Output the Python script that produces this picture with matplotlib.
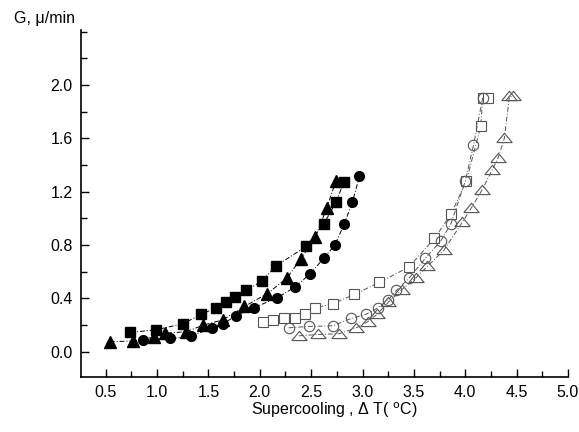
import matplotlib
matplotlib.use("Agg")
import matplotlib.pyplot as plt
from matplotlib.ticker import MultipleLocator

plt.rcParams['font.family'] = ['Liberation Sans', 'DejaVu Sans']

# filled symbols
sq_fill_x = [0.74, 0.99, 1.25, 1.43, 1.57, 1.67, 1.76, 1.87, 2.02, 2.16, 2.45, 2.62, 2.74, 2.82]
sq_fill_y = [0.145, 0.165, 0.21, 0.28, 0.33, 0.37, 0.41, 0.46, 0.53, 0.645, 0.79, 0.955, 1.12, 1.275]
ci_fill_x = [0.86, 1.13, 1.33, 1.53, 1.64, 1.77, 1.94, 2.17, 2.34, 2.49, 2.62, 2.73, 2.82, 2.90, 2.97]
ci_fill_y = [0.09, 0.10, 0.115, 0.18, 0.21, 0.27, 0.33, 0.405, 0.485, 0.585, 0.70, 0.80, 0.955, 1.12, 1.315]
tr_fill_x = [0.54, 0.77, 0.97, 1.08, 1.28, 1.45, 1.64, 1.85, 2.07, 2.26, 2.40, 2.54, 2.65, 2.74]
tr_fill_y = [0.077, 0.08, 0.11, 0.14, 0.15, 0.20, 0.24, 0.34, 0.435, 0.55, 0.695, 0.86, 1.075, 1.28]

# open symbols
sq_open_x = [2.03, 2.13, 2.24, 2.34, 2.44, 2.54, 2.71, 2.92, 3.16, 3.45, 3.70, 3.86, 4.01, 4.15, 4.17, 4.22]
sq_open_y = [0.22, 0.24, 0.255, 0.255, 0.285, 0.33, 0.36, 0.43, 0.52, 0.635, 0.85, 1.03, 1.28, 1.69, 1.905, 1.905]
ci_open_x = [2.28, 2.48, 2.71, 2.89, 3.03, 3.15, 3.25, 3.33, 3.45, 3.61, 3.76, 3.86, 4.00, 4.08, 4.17]
ci_open_y = [0.18, 0.19, 0.195, 0.25, 0.28, 0.33, 0.39, 0.46, 0.55, 0.70, 0.83, 0.96, 1.28, 1.55, 1.905]
tr_open_x = [2.38, 2.57, 2.77, 2.94, 3.05, 3.14, 3.25, 3.38, 3.52, 3.63, 3.79, 3.97, 4.06, 4.16, 4.26, 4.32, 4.38, 4.43, 4.46]
tr_open_y = [0.12, 0.13, 0.135, 0.18, 0.225, 0.28, 0.37, 0.465, 0.555, 0.64, 0.76, 0.97, 1.08, 1.21, 1.36, 1.455, 1.60, 1.915, 1.915]

fig = plt.figure(figsize=(5.79, 4.32), dpi=100)
ax = fig.add_axes([0.140, 0.127, 0.841, 0.804])

line_kw = dict(linestyle=(0, (5, 2, 1, 2)), linewidth=0.7)

# wide, flat open triangle like the original
wide_tri = [(-1.4, -0.75), (1.4, -0.75), (0, 0.95), (-1.4, -0.75)]

ax.plot(tr_fill_x, tr_fill_y, color='black', marker='^', markersize=8, **line_kw)
ax.plot(sq_fill_x, sq_fill_y, color='black', marker='s', markersize=6.5, **line_kw)
ax.plot(ci_fill_x, ci_fill_y, color='black', marker='o', markersize=7, **line_kw)

gray = '#555555'
ax.plot(sq_open_x, sq_open_y, color=gray, marker='s', markersize=7, markerfacecolor='white',
        markeredgecolor=gray, markeredgewidth=0.8, **line_kw)
ax.plot(ci_open_x, ci_open_y, color=gray, marker='o', markersize=7.5, markerfacecolor='none',
        markeredgecolor=gray, markeredgewidth=0.8, **line_kw)
ax.plot(tr_open_x, tr_open_y, color=gray, marker=wide_tri, markersize=11, markerfacecolor='none',
        markeredgecolor=gray, markeredgewidth=0.8, **line_kw)

ax.set_xlim(0.26, 5.0)
ax.set_ylim(-0.19, 2.415)
ax.xaxis.set_minor_locator(MultipleLocator(0.25))
ax.yaxis.set_minor_locator(MultipleLocator(0.2))
ax.set_xticks([0.5, 1.0, 1.5, 2.0, 2.5, 3.0, 3.5, 4.0, 4.5, 5.0])
ax.set_yticks([0.0, 0.4, 0.8, 1.2, 1.6, 2.0])
ax.xaxis.set_major_formatter(plt.FuncFormatter(lambda v, p: f"{v:.1f}"))
ax.yaxis.set_major_formatter(plt.FuncFormatter(lambda v, p: f"{v:.1f}"))

ax.spines['top'].set_visible(False)
ax.spines['right'].set_visible(False)
ax.spines['left'].set_linewidth(1.2)
ax.spines['bottom'].set_linewidth(1.2)
ax.tick_params(which='major', direction='in', length=6, width=1, labelsize=11.5, pad=6)
ax.tick_params(which='minor', direction='in', length=4, width=1)

fig.text(0.025, 0.958, "G, \u03bc/min", fontsize=11.5, ha='left', va='center')
fig.text(0.578, 0.050, "Supercooling , \u0394 T( $^{\\mathrm{o}}$C)", fontsize=11.5, ha='center', va='center')

fig.savefig("out.png", dpi=100)
